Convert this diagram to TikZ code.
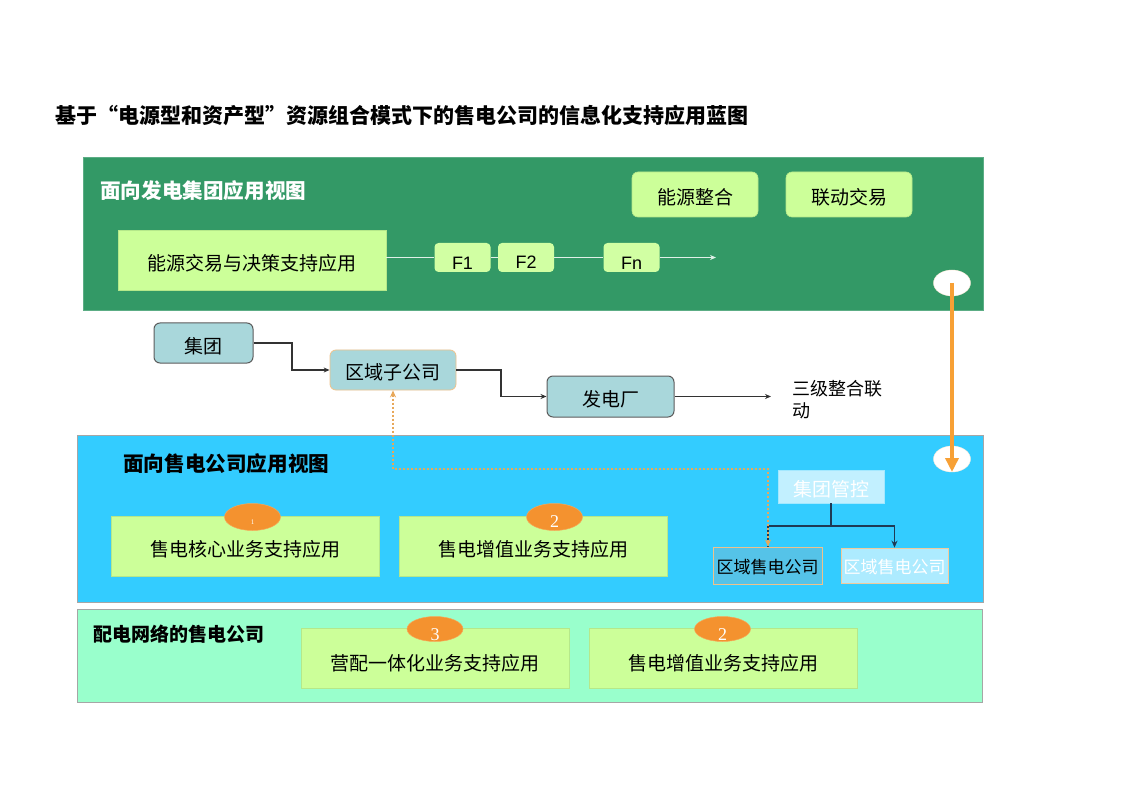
\documentclass[tikz,border=0pt]{standalone}
\usepackage{fontspec}
\setmainfont{Noto Sans CJK SC}
\newfontfamily\numfont{Liberation Serif}
\newfontfamily\latinfont{Liberation Sans}
\usetikzlibrary{arrows.meta,shapes.geometric}
\definecolor{bandgreen}{HTML}{339966}
\definecolor{bandblue}{HTML}{33CCFF}
\definecolor{bandmint}{HTML}{99FFCC}
\definecolor{lgreen}{HTML}{CCFF99}
\definecolor{lgreenedge}{HTML}{B5E88A}
\definecolor{grayfill}{HTML}{A9D7DB}
\definecolor{orangefill}{HTML}{F4922F}
\definecolor{orangeline}{HTML}{F7A035}
\definecolor{dotorange}{HTML}{E8A85A}
\definecolor{navy}{HTML}{1F3A55}
\definecolor{connline}{HTML}{333333}
\newcommand{\fs}[1]{\fontsize{#1}{#1}\selectfont}
\newcommand{\dn}[2]{\raisebox{-#1}[\height][\depth]{#2}}
\begin{document}
\begin{tikzpicture}[x=1pt,y=-1pt,
  band/.style={rectangle,inner sep=0pt,draw=gray!70,line width=0.8pt},
  appbox/.style={rectangle,fill=lgreen,draw=lgreenedge,line width=0.6pt,minimum width=268pt,minimum height=60pt,inner sep=0pt,font=\fs{19}},
  roundbox/.style={rectangle,rounded corners=6pt,fill=lgreen,draw=lgreenedge,line width=0.6pt,minimum width=126pt,minimum height=45pt,inner sep=0pt,font=\fs{19}},
  fbox/.style={rectangle,rounded corners=4pt,fill=lgreen!90!white,draw=none,minimum width=56pt,minimum height=29pt,inner sep=0pt,font=\latinfont\fs{18}},
  graybox/.style={rectangle,rounded corners=6pt,fill=grayfill,draw=connline!80,line width=1pt,minimum height=40pt,inner sep=0pt,font=\fs{19}},
  numell/.style={ellipse,fill=orangefill,draw=orangefill!80!white,line width=0.5pt,minimum width=56pt,minimum height=27pt,inner sep=0pt,text=white,font=\numfont\fs{18}},
  whiteell/.style={ellipse,fill=white,draw=white!85!orange,minimum width=37pt,minimum height=26pt,inner sep=0pt},
  conn/.style={draw=connline,line width=1.2pt,-{Stealth[length=6pt,width=5pt]}},
  bandtitle/.style={anchor=west,inner sep=0pt,font=\bfseries\fs{20.6}},
]
\useasboundingbox[fill=white] (0,0) rectangle (1122,794);

% title
\node[anchor=west,inner sep=0pt,font=\bfseries\fs{21}] (title) at (55,116) {基于“电源型和资产型”资源组合模式下的售电公司的信息化支持应用蓝图};

% ===== green band =====
\node[band,fill=bandgreen,draw=bandgreen!80!white,minimum width=900pt,minimum height=153pt] (gband) at (533,233.5) {};
\node[bandtitle,text=white] (gtitle) at (100,191) {面向发电集团应用视图};
\node[roundbox] (nyzh) at (695,194.5) {\dn{3pt}{能源整合}};
\node[roundbox] (ldjy) at (849,194.5) {\dn{3pt}{联动交易}};
\node[appbox] (nyjy) at (252,260.5) {\dn{3pt}{能源交易与决策支持应用}};
\node[fbox] (f1) at (462.5,257.5) {\dn{6pt}{F1}};
\node[fbox] (f2) at (526,257.5) {\dn{5pt}{F2}};
\node[fbox] (fn) at (631.5,257.5) {\dn{6pt}{Fn}};
\coordinate (fend) at (716,257.5);
\draw[draw=white!85!bandgreen,line width=1pt] (nyjy.east |- f1.west) -- (f1.west);
\draw[draw=white!85!bandgreen,line width=1pt] (f1.east) -- (f2.west);
\draw[draw=white!85!bandgreen,line width=1pt] (f2.east) -- (fn.west);
\draw[draw=white!85!bandgreen,line width=1pt,-{Stealth[length=6pt,width=5pt]}] (fn.east) -- (fend);
\node[whiteell] (e1) at (952,283) {};

% ===== middle white area =====
\node[graybox,minimum width=99pt] (jt) at (203.5,343) {\dn{3pt}{集团}};
\node[graybox,minimum width=126pt,draw=dotorange!70,line width=0.8pt] (qyz) at (393,370) {\dn{2pt}{区域子公司}};
\node[graybox,minimum width=127pt,minimum height=41pt] (fdc) at (610.5,396.5) {\dn{3pt}{发电厂}};
\coordinate (sjend) at (771,396.5);
\node[anchor=north west,inner sep=0pt,align=left,font=\fs{18}] (sjzh) at (792,380) {三级整合联\\[4pt]动};
\draw[conn] (jt.east) -- (292,343) -- (292,370) -- (qyz.west);
\draw[conn] (qyz.east) -- (501,370) -- (501,396.5) -- (fdc.west);
\draw[conn] (fdc.east) -- (sjend);

% ===== blue band =====
\node[band,fill=bandblue,minimum width=906pt,minimum height=167pt] (bband) at (530,518.5) {};
\node[bandtitle] (btitle) at (123,464) {面向售电公司应用视图};
\node[appbox] (hx) at (245.5,546) {\dn{3pt}{售电核心业务支持应用}};
\node[appbox] (zz1) at (533,546) {\dn{3pt}{售电增值业务支持应用}};
\node[numell] (n1) at (252.5,517) {\dn{5pt}{\fs{7}1}};
\node[numell] (n2) at (554.5,517) {\dn{5pt}{2}};
\node[rectangle,fill=white!70!bandblue,draw=white!55!bandblue,minimum width=106pt,minimum height=33pt,inner sep=0pt,text=white,font=\fs{19}] (jtgk) at (831,486.5) {\dn{3pt}{集团管控}};
\node[rectangle,fill=bandblue!80!gray!90!white,draw=dotorange!70,line width=0.8pt,minimum width=109pt,minimum height=37pt,inner sep=0pt,font=\fs{17}] (qysd1) at (767.5,565.5) {\dn{2pt}{区域售电公司}};
\node[rectangle,fill=bandblue!40!white,draw=dotorange!60,line width=0.8pt,minimum width=107pt,minimum height=35pt,inner sep=0pt,text=white,font=\fs{17}] (qysd2) at (894.5,565.5) {\dn{2pt}{区域售电公司}};
\node[whiteell] (e2) at (952,459) {};
\coordinate (dotx) at (768,0);
\coordinate (navyl) at (768,526);
\coordinate (navyr) at (894.5,526);
\coordinate (navym) at (831,526);
\coordinate (dotturn1) at (393,469);
\coordinate (dotturn2) at (768,469);
\draw[draw=navy,line width=1.4pt] (jtgk.south) -- (navym);
\draw[draw=navy,line width=1.4pt] (navyl) -- (navyr);
\draw[draw=navy,line width=1.4pt,-{Stealth[length=7pt,width=6pt]}] (navyr) -- (qysd2.north);
\draw[draw=navy,line width=1.4pt,dash pattern=on 2pt off 2pt] (navyl) -- (dotx |- qysd1.north);
\draw[draw=dotorange,line width=2pt,dash pattern=on 2pt off 2pt,{Stealth[length=7pt,width=6pt]}-{Stealth[length=7pt,width=6pt]}] (qyz.south) -- (dotturn1) -- (dotturn2) -- (dotx |- qysd1.north);

% orange thick arrow
\coordinate (otip) at (952,472);
\draw[draw=orangeline,line width=4pt,-{Triangle[length=14pt,width=13pt]}] (e1.center) -- (otip);

% ===== mint band =====
\node[band,fill=bandmint,minimum width=905pt,minimum height=93pt] (mband) at (529.5,655.5) {};
\node[bandtitle,font=\bfseries\fs{19}] (mtitle) at (93,634) {配电网络的售电公司};
\node[appbox] (ypyt) at (435,658) {\dn{5pt}{营配一体化业务支持应用}};
\node[appbox] (zz2) at (723,658) {\dn{5pt}{售电增值业务支持应用}};
\node[numell,minimum height=25pt] (n3) at (435,629) {\dn{6pt}{3}};
\node[numell,minimum height=25pt] (n4) at (722.5,629) {\dn{6pt}{2}};
\end{tikzpicture}
\end{document}
